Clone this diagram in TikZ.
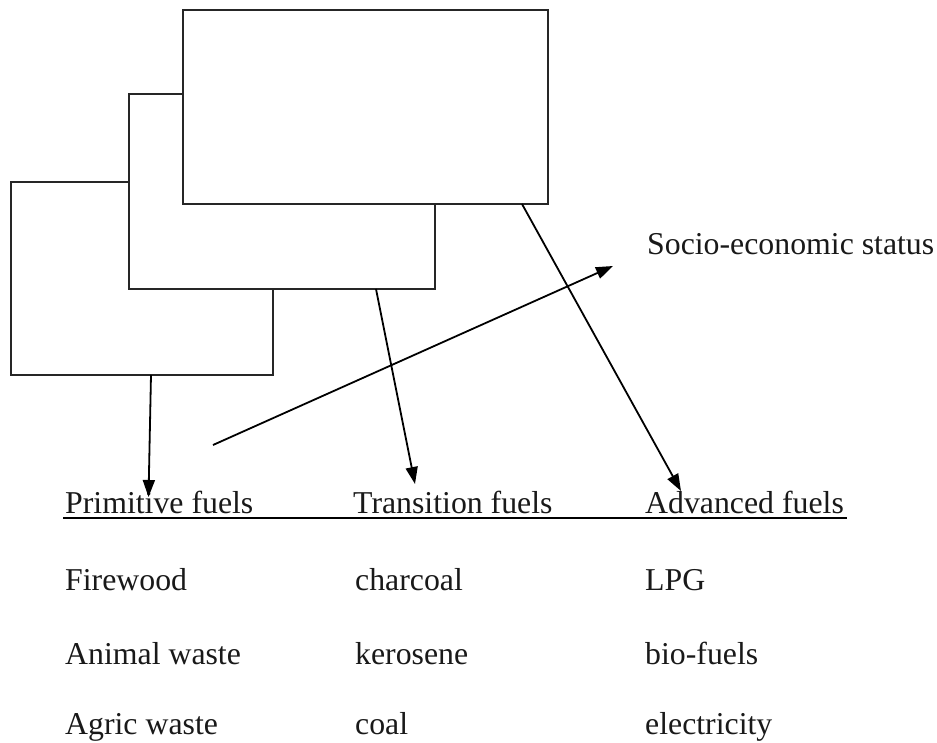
\documentclass[tikz,border=0pt]{standalone}
\usepackage{fontspec}
\setmainfont{Liberation Serif}
\usetikzlibrary{arrows.meta,calc}
\begin{document}
\begin{tikzpicture}[x=1pt,y=-1pt,
  box/.style={draw=black!85,line width=1.4pt,fill=white},
  conn/.style={line width=1.8pt,-{Triangle[length=17pt,width=12pt]}},
  lbl/.style={anchor=base west,inner sep=0pt,font=\fontsize{31.8pt}{38pt}\selectfont,text=black!90}]
\useasboundingbox (0,0) rectangle (937,742);
% boxes (back to front)
\path[box] (11,182) rectangle (273,375);
\path[box] (129,94) rectangle (435,289);
\path[box] (183,10) rectangle (548,204);
% connector start points on box bottoms
\coordinate (s1) at (151,375);
\coordinate (s2) at (376,289);
\coordinate (s3) at (522,204);
\coordinate (s4) at (213,445);
% tips
\coordinate (t1) at (148.5,497);
\coordinate (t2) at (415,484);
\coordinate (t3) at (681,491);
\coordinate (t4) at (613,266);
% texts
\node[lbl] (soc) at (647,254) {Socio-economic status};
\node[lbl] (h1) at (65,513) {Primitive fuels};
\node[lbl] (h2) at (353,513) {Transition fuels};
\node[lbl] (h3) at (645,513) {Advanced fuels};
\node[lbl] (a1) at (65,590) {Firewood};
\node[lbl] (a2) at (355,590) {charcoal};
\node[lbl] (a3) at (645,590) {LPG};
\node[lbl] (b1) at (65,664) {Animal waste};
\node[lbl] (b2) at (355,664) {kerosene};
\node[lbl] (b3) at (645,664) {bio-fuels};
\node[lbl] (c1) at (65,734) {Agric waste};
\node[lbl] (c2) at (355,734) {coal};
\node[lbl] (c3) at (645,734) {electricity};
% underline
\coordinate (ul) at (63,518);
\coordinate (ur) at (847,518);
\draw[line width=1.5pt] (ul) -- (ur);
% arrows
\draw[conn] (s1) -- (t1);
\draw[conn] (s2) -- (t2);
\draw[conn] (s3) -- (t3);
\draw[conn] (s4) -- (t4);
\end{tikzpicture}
\end{document}
